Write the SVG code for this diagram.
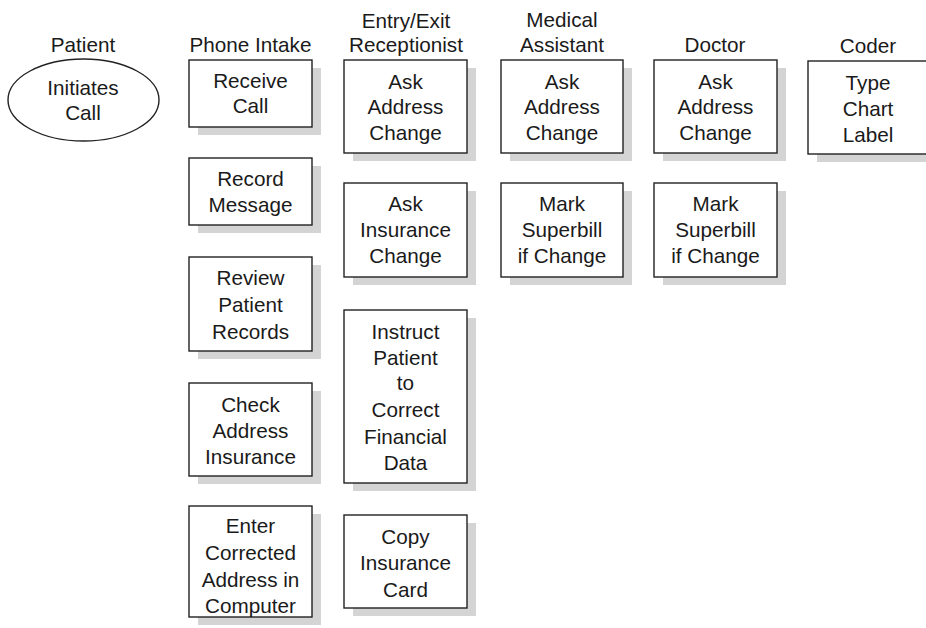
<svg xmlns="http://www.w3.org/2000/svg" width="926" height="628" viewBox="0 0 926 628">
<style>
  text { font-family: "Liberation Sans", Arial, Helvetica, sans-serif; font-size: 20.7px; fill: #1a1a1a; text-anchor: middle; }
  .box { fill: #ffffff; stroke: #222222; stroke-width: 1.4; }
  .shadow { fill: #d4d4d4; stroke: none; }
</style>
<rect width="926" height="628" fill="#ffffff"/>

<g id="headers">
  <text x="83" y="52">Patient</text>
  <text x="250.5" y="52">Phone Intake</text>
  <text x="406" y="28">Entry/Exit</text>
  <text x="406" y="52">Receptionist</text>
  <text x="562" y="27">Medical</text>
  <text x="562" y="52">Assistant</text>
  <text x="715" y="52">Doctor</text>
  <text x="868" y="53">Coder</text>
</g>

<g id="connectors"></g>

<g id="patient-initiates-call">
  <ellipse cx="83.5" cy="100" rx="75.5" ry="41" class="box"/>
  <text x="83" y="95">Initiates</text>
  <text x="83" y="120">Call</text>
</g>

<g id="receive-call">
  <rect x="198" y="68" width="123" height="67" class="shadow"/>
  <rect x="189" y="60" width="123" height="67" class="box"/>
  <text x="250.5" y="88">Receive</text>
  <text x="250.5" y="113">Call</text>
</g>

<g id="record-message">
  <rect x="198" y="166" width="123" height="67" class="shadow"/>
  <rect x="189" y="158" width="123" height="67" class="box"/>
  <text x="250.5" y="186">Record</text>
  <text x="250.5" y="211.5">Message</text>
</g>

<g id="review-patient-records">
  <rect x="198" y="265" width="123" height="94" class="shadow"/>
  <rect x="189" y="257" width="123" height="94" class="box"/>
  <text x="250.5" y="285">Review</text>
  <text x="250.5" y="312">Patient</text>
  <text x="250.5" y="339">Records</text>
</g>

<g id="check-address-insurance">
  <rect x="198" y="391" width="123" height="93" class="shadow"/>
  <rect x="189" y="383" width="123" height="93" class="box"/>
  <text x="250.5" y="411.5">Check</text>
  <text x="250.5" y="437.5">Address</text>
  <text x="250.5" y="463.5">Insurance</text>
</g>

<g id="enter-corrected-address">
  <rect x="198" y="514" width="123" height="111" class="shadow"/>
  <rect x="189" y="506" width="123" height="111" class="box"/>
  <text x="250.5" y="533">Enter</text>
  <text x="250.5" y="560">Corrected</text>
  <text x="250.5" y="586.5">Address in</text>
  <text x="250.5" y="612.5">Computer</text>
</g>

<g id="entry-ask-address-change">
  <rect x="353" y="68" width="123" height="93" class="shadow"/>
  <rect x="344" y="60" width="123" height="93" class="box"/>
  <text x="405.5" y="88.5">Ask</text>
  <text x="405.5" y="113.5">Address</text>
  <text x="405.5" y="140">Change</text>
</g>

<g id="entry-ask-insurance-change">
  <rect x="353" y="191" width="123" height="94" class="shadow"/>
  <rect x="344" y="183" width="123" height="94" class="box"/>
  <text x="405.5" y="210.5">Ask</text>
  <text x="405.5" y="236.5">Insurance</text>
  <text x="405.5" y="263">Change</text>
</g>

<g id="instruct-patient">
  <rect x="353" y="318" width="123" height="173" class="shadow"/>
  <rect x="344" y="310" width="123" height="173" class="box"/>
  <text x="405.5" y="338.5">Instruct</text>
  <text x="405.5" y="365">Patient</text>
  <text x="405.5" y="390">to</text>
  <text x="405.5" y="416.5">Correct</text>
  <text x="405.5" y="444">Financial</text>
  <text x="405.5" y="470">Data</text>
</g>

<g id="copy-insurance-card">
  <rect x="353" y="523" width="123" height="93" class="shadow"/>
  <rect x="344" y="515" width="123" height="93" class="box"/>
  <text x="405.5" y="543.5">Copy</text>
  <text x="405.5" y="570">Insurance</text>
  <text x="405.5" y="596.5">Card</text>
</g>

<g id="ma-ask-address-change">
  <rect x="510" y="68" width="122" height="93" class="shadow"/>
  <rect x="501" y="60" width="122" height="93" class="box"/>
  <text x="562" y="88.5">Ask</text>
  <text x="562" y="113.5">Address</text>
  <text x="562" y="140">Change</text>
</g>

<g id="ma-mark-superbill">
  <rect x="510" y="191" width="122" height="94" class="shadow"/>
  <rect x="501" y="183" width="122" height="94" class="box"/>
  <text x="562" y="210.5">Mark</text>
  <text x="562" y="236.5">Superbill</text>
  <text x="562" y="263">if Change</text>
</g>

<g id="doctor-ask-address-change">
  <rect x="663" y="68" width="123" height="93" class="shadow"/>
  <rect x="654" y="60" width="123" height="93" class="box"/>
  <text x="715.5" y="88.5">Ask</text>
  <text x="715.5" y="113.5">Address</text>
  <text x="715.5" y="140">Change</text>
</g>

<g id="doctor-mark-superbill">
  <rect x="663" y="191" width="123" height="94" class="shadow"/>
  <rect x="654" y="183" width="123" height="94" class="box"/>
  <text x="715.5" y="210.5">Mark</text>
  <text x="715.5" y="236.5">Superbill</text>
  <text x="715.5" y="263">if Change</text>
</g>

<g id="coder-type-chart-label">
  <rect x="817" y="69" width="122" height="93" class="shadow"/>
  <rect x="808" y="61" width="122" height="93" class="box"/>
  <text x="868" y="90">Type</text>
  <text x="868" y="115.5">Chart</text>
  <text x="868" y="141.5">Label</text>
</g>
</svg>
